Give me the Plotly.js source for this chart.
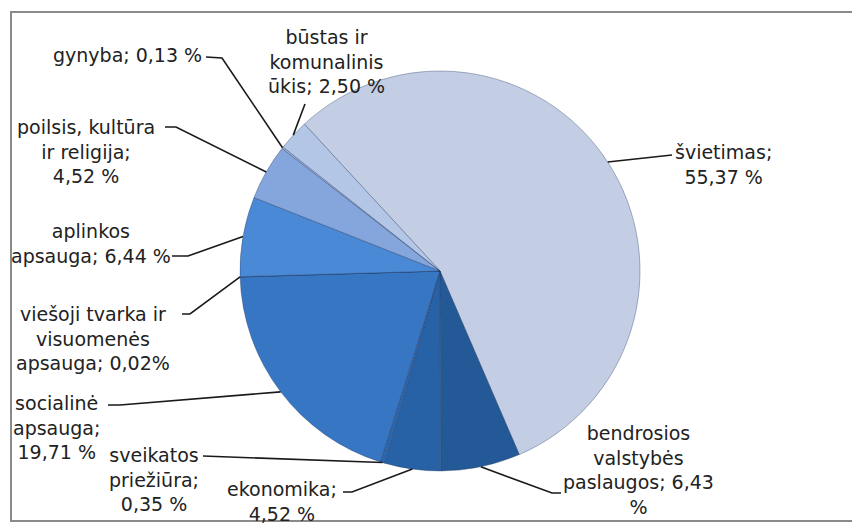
<!DOCTYPE html>
<html><head><meta charset="utf-8">
<script src="https://cdn.plot.ly/plotly-3.0.1.min.js"></script>
<style>html,body{margin:0;padding:0;background:#fff}#chart{width:852px;height:526px}</style>
</head><body><div id="chart"></div>
<script>
// ---- data ----
const categories = [
  "švietimas",
  "bendrosios<br>valstybės<br>paslaugos",
  "ekonomika",
  "sveikatos<br>priežiūra",
  "socialinė<br>apsauga",
  "viešoji tvarka ir<br>visuomenės<br>apsauga",
  "aplinkos<br>apsauga",
  "poilsis, kultūra<br>ir religija",
  "gynyba",
  "būstas ir<br>komunalinis<br>ūkis"
];
const values = [55.37, 6.43, 4.52, 0.35, 19.71, 0.02, 6.44, 4.52, 0.13, 2.50];

// ---- styles / layout ----
const sliceColors = ["#c3cee4", "#235996", "#2862a6", "#2c67ad", "#3676c3",
                     "#3d7ecb", "#4a89d6", "#84a6dc", "#a0b8e0", "#b4c6e5"];
const startAngle = -42.7;
const L = 240, T = 71, S = 400;   // plot area in pixels
const CX = L + S / 2, CY = T + S / 2, R = S / 2;
// label placement: text centre, leader end at the text, optional elbow, separators
const labelLayout = [
  {x: 723, y: 164, end: [672, 155], elbow: null, sep: ";<br>", pct: " %"},
  {x: 638, y: 470, end: [561, 493], elbow: [552, 493], sep: "; ", pct: "<br>%"},
  {x: 282, y: 501, end: [343, 492], elbow: [352, 492], sep: ";<br>", pct: " %"},
  {x: 154, y: 479, end: [203, 456], elbow: null, sep: ";<br>", pct: " %"},
  {x: 56,  y: 427, end: [108, 405], elbow: [120, 405], sep: ";<br>", pct: " %"},
  {x: 93,  y: 338, end: [182, 314], elbow: [190, 314], sep: "; ", pct: "%"},
  {x: 91,  y: 243, end: [172, 256], elbow: [188, 256], sep: "; ", pct: " %"},
  {x: 86,  y: 151, end: [165, 127], elbow: [176, 127], sep: ";<br>", pct: " %"},
  {x: 128, y: 55,  end: [206, 57], elbow: [222, 58], sep: "; ", pct: " %"},
  {x: 326, y: 61,  end: [305, 104], elbow: null, sep: "; ", pct: " %"}
];

const fx = X => (X - L) / S;
const fy = Y => (T + S - Y) / S;
const total = values.reduce((a, b) => a + b, 0);
const fmt = v => v.toFixed(2).replace('.', ',');
const FONT = {family: 'DejaVu Sans', size: 19, color: '#222222'};

const annotations = [], shapes = [];
let cum = 0;
values.forEach((v, i) => {
  const a = (startAngle + (cum + v / 2) / total * 360) * Math.PI / 180;
  cum += v;
  const ex = CX + R * Math.sin(a), ey = CY - R * Math.cos(a);
  const lb = labelLayout[i];
  annotations.push({
    text: categories[i] + lb.sep + fmt(v) + lb.pct,
    x: fx(lb.x), y: fy(lb.y), xref: 'paper', yref: 'paper',
    xanchor: 'center', yanchor: 'middle', showarrow: false, align: 'center',
    font: FONT
  });
  let p = 'M' + fx(ex) + ',' + fy(ey);
  if (lb.elbow) p += ' L' + fx(lb.elbow[0]) + ',' + fy(lb.elbow[1]);
  p += ' L' + fx(lb.end[0]) + ',' + fy(lb.end[1]);
  shapes.push({type: 'path', path: p, xref: 'paper', yref: 'paper',
               line: {color: '#1a1a1a', width: 1.6}});
});
// frame
shapes.push({type: 'rect', xref: 'paper', yref: 'paper',
  x0: fx(11), x1: fx(880), y0: fy(521), y1: fy(12),
  line: {color: '#8a8a8a', width: 2}, layer: 'below'});

const trace = {
  type: 'pie', labels: categories, values: values, sort: false,
  direction: 'clockwise', rotation: startAngle, textinfo: 'none',
  hoverinfo: 'label+percent', showlegend: false,
  marker: {colors: sliceColors, line: {color: 'rgba(30,50,90,0.35)', width: 1}},
  domain: {x: [0, 1], y: [0, 1]}
};

Plotly.newPlot('chart', [trace], {
  width: 852, height: 526,
  font: FONT,
  margin: {l: L, r: 852 - L - S, t: T, b: 526 - T - S, pad: 0},
  paper_bgcolor: '#ffffff', plot_bgcolor: '#ffffff',
  annotations: annotations, shapes: shapes, showlegend: false
}, {displayModeBar: false, staticPlot: true});
</script>
</body></html>
